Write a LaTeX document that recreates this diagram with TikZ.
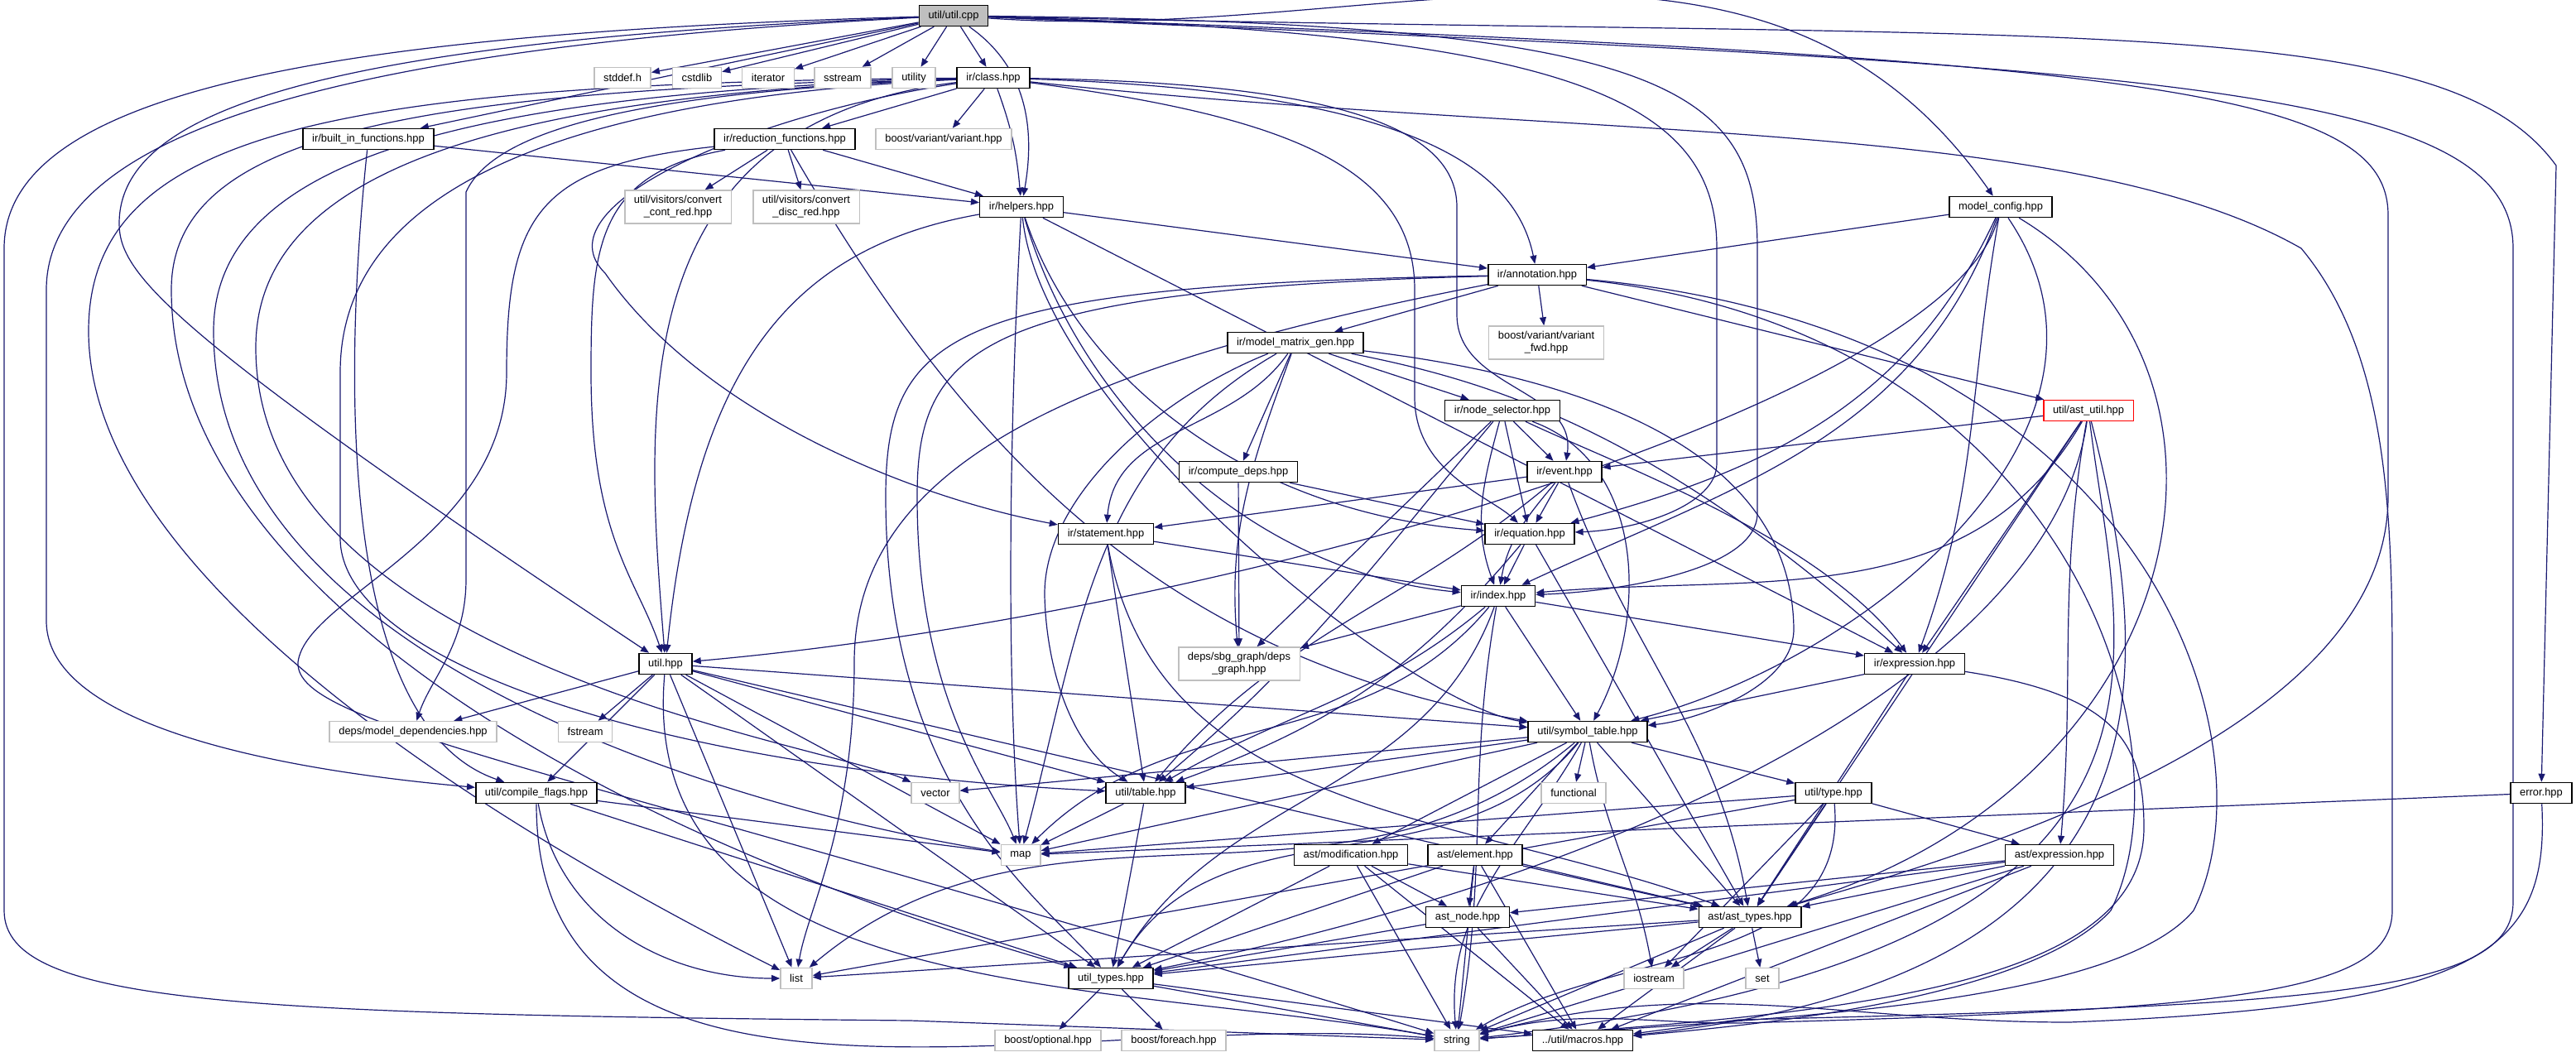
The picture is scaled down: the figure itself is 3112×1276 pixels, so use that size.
\documentclass[tikz,border=0pt]{standalone}
\usepackage{fontspec}
\setmainfont{Liberation Sans}
\usetikzlibrary{arrows.meta,backgrounds}

\definecolor{edgeblue}{RGB}{25,25,112}
\definecolor{boxgray}{RGB}{191,191,191}

\begin{document}
\begin{tikzpicture}[x=0.5pt,y=-0.5pt,>={Triangle[length=5pt,width=4pt]},
    filebox/.style={draw=black, fill=white, line width=0.75pt, rectangle, minimum height=12.5pt,
        inner xsep=5.6pt, inner ysep=0.5pt, align=center, font=\fontsize{6.45}{7.5}\selectfont},
    sysbox/.style={filebox, draw=boxgray},
    rootbox/.style={filebox, fill=boxgray},
    redbox/.style={filebox, draw=red},
    twoline/.style={minimum height=20pt},
    dep/.style={->, draw=edgeblue, line width=0.6pt}]
            \useasboundingbox (0,0) rectangle (3112,1276);

            % files, row by row
            \node[rootbox] (cpp) at (1152,19) {util/util.cpp};
            \node[sysbox] (stddef) at (752,94) {stddef.h};
            \node[sysbox] (cstdlib) at (842,94) {cstdlib};
            \node[sysbox] (iterator) at (928,94) {iterator};
            \node[sysbox] (sstream) at (1018,94) {sstream};
            \node[sysbox] (utility) at (1104,94) {utility};
            \node[filebox] (cls) at (1200,94) {ir/class.hpp};
            \node[filebox] (builtin) at (445,168) {ir/built\_in\_functions.hpp};
            \node[filebox] (reduc) at (948,168) {ir/reduction\_functions.hpp};
            \node[sysbox] (bvariant) at (1140,168) {boost/variant/variant.hpp};
            \node[sysbox, twoline] (cont) at (819,250) {util/visitors/convert\\\_cont\_red.hpp};
            \node[sysbox, twoline] (disc) at (974,250) {util/visitors/convert\\\_disc\_red.hpp};
            \node[filebox] (helpers) at (1234,250) {ir/helpers.hpp};
            \node[filebox] (mcfg) at (2417,250) {model\_config.hpp};
            \node[filebox] (annot) at (1857,332) {ir/annotation.hpp};
            \node[filebox] (mmgen) at (1565,414) {ir/model\_matrix\_gen.hpp};
            \node[sysbox, twoline] (fwd) at (1868,414) {boost/variant/variant\\\_fwd.hpp};
            \node[redbox] (astutil) at (2523,496) {util/ast\_util.hpp};
            \node[filebox] (nodesel) at (1815,496) {ir/node\_selector.hpp};
            \node[filebox] (cdeps) at (1496,570) {ir/compute\_deps.hpp};
            \node[filebox] (event) at (1890,570) {ir/event.hpp};
            \node[filebox] (stmt) at (1336,645) {ir/statement.hpp};
            \node[filebox] (eqn) at (1848,645) {ir/equation.hpp};
            \node[filebox] (index) at (1810,720) {ir/index.hpp};
            \node[sysbox, twoline] (depsg) at (1497,802) {deps/sbg\_graph/deps\\\_graph.hpp};
            \node[filebox] (irexpr) at (2313,802) {ir/expression.hpp};
            \node[filebox] (utilh) at (804,802) {util.hpp};
            \node[sysbox] (mdeps) at (499,884) {deps/model\_dependencies.hpp};
            \node[sysbox] (fstream) at (707,884) {fstream};
            \node[filebox] (symtab) at (1918,884) {util/symbol\_table.hpp};
            \node[filebox] (cflags) at (648,958) {util/compile\_flags.hpp};
            \node[sysbox] (vector) at (1130,958) {vector};
            \node[filebox] (table) at (1384,958) {util/table.hpp};
            \node[sysbox] (functional) at (1901,958) {functional};
            \node[filebox] (type) at (2215,958) {util/type.hpp};
            \node[filebox] (error) at (3070,958) {error.hpp};
            \node[sysbox] (map) at (1233,1033) {map};
            \node[filebox] (modif) at (1632,1033) {ast/modification.hpp};
            \node[filebox] (element) at (1782,1033) {ast/element.hpp};
            \node[filebox] (astexpr) at (2488,1033) {ast/expression.hpp};
            \node[filebox] (astnode) at (1773,1108) {ast\_node.hpp};
            \node[filebox] (asttypes) at (2114,1108) {ast/ast\_types.hpp};
            \node[sysbox] (list) at (962,1182) {list};
            \node[filebox] (utypes) at (1342,1182) {util\_types.hpp};
            \node[sysbox] (iostream) at (1998,1182) {iostream};
            \node[sysbox] (set) at (2129,1182) {set};
            \node[sysbox] (bopt) at (1266,1257) {boost/optional.hpp};
            \node[sysbox] (bfor) at (1418,1257) {boost/foreach.hpp};
            \node[sysbox] (str) at (1760,1257) {string};
            \node[filebox] (macros) at (1912,1257) {../util/macros.hpp};

            \begin{scope}[on background layer]
            % util/util.cpp
            \draw[dep] (cpp) -- (stddef);
            \draw[dep] (cpp) -- (cstdlib);
            \draw[dep] (cpp) -- (iterator);
            \draw[dep] (cpp) -- (sstream);
            \draw[dep] (cpp) -- (utility);
            \draw[dep] (cpp) -- (cls);
            \draw[dep] (cpp) -- (builtin);
            \draw[dep] (cpp) to[out=-35,in=80] (helpers);
            \draw[dep] (cpp) to[out=-4,in=125] (mcfg);
            \draw[dep] (cpp) .. controls (2500,50) and (2950,10) .. (3088,200) -- (error);
            \draw[dep] (cpp) .. controls (2600,80) and (3036,100) .. (3036,300) -- (3036,1090) .. controls (3036,1200) and (2800,1215) .. (2100,1232) -- (macros);
            \draw[dep] (cpp) .. controls (400,40) and (5,110) .. (5,300) -- (5,1100) .. controls (5,1215) and (300,1225) .. (1100,1233) -- (str);
            \draw[dep] (cpp) .. controls (450,55) and (56,150) .. (56,350) -- (56,750) .. controls (56,900) and (450,940) .. (cflags);
            \draw[dep] (cpp) .. controls (400,50) and (144,130) .. (144,270) .. controls (144,330) and (200,400) .. (utilh);
            \draw[dep] (cpp) .. controls (1900,40) and (2074,120) .. (2074,300) -- (2074,560) .. controls (2074,610) and (1980,640) .. (eqn);
            \draw[dep] (cpp) .. controls (2000,28) and (2123,100) .. (2123,300) -- (2123,620) .. controls (2123,690) and (1950,715) .. (index);
            \draw[dep] (cpp) .. controls (2600,70) and (2885,110) .. (2885,260) -- (2885,600) .. controls (2885,850) and (2500,1000) .. (asttypes);

            % ir/class.hpp
            \draw[dep] (cls) -- (reduc);
            \draw[dep] (cls) -- (bvariant);
            \draw[dep] (cls) to[out=-70,in=95] (helpers);
            \draw[dep] (cls) .. controls (1700,110) and (1830,200) .. (annot);
            \draw[dep] (cls) .. controls (1600,100) and (1760,150) .. (1760,250) -- (1760,380) .. controls (1760,470) and (1905,470) .. (event);
            \draw[dep] (cls) .. controls (1550,140) and (1709,200) .. (1709,350) -- (1709,480) .. controls (1709,570) and (1800,600) .. (eqn);
            \draw[dep] (cls) .. controls (1900,170) and (2500,140) .. (2780,300) .. controls (2880,420) and (2890,600) .. (2890,800) -- (2890,1100) .. controls (2890,1200) and (2700,1220) .. (2100,1236) to[out=180,in=15] (str);
            \draw[dep] (cls) .. controls (900,140) and (650,250) .. (731,330) .. controls (850,500) and (1100,600) .. (stmt);
            \draw[dep] (cls) .. controls (750,150) and (780,500) .. (utilh);
            \draw[dep] (cls) .. controls (800,110) and (600,150) .. (563,232) -- (563,700) .. controls (563,780) and (520,820) .. (mdeps);
            \draw[dep] (cls) .. controls (400,100) and (107,160) .. (107,400) .. controls (107,700) and (600,1000) .. (list);
            \draw[dep] (cls) .. controls (500,108) and (207,160) .. (207,350) .. controls (207,700) and (700,1000) .. (utypes);
            \draw[dep] (cls) .. controls (600,112) and (258,180) .. (258,400) .. controls (258,800) and (900,980) .. (map);
            \draw[dep] (cls) .. controls (650,114) and (309,190) .. (309,420) .. controls (309,800) and (1000,900) .. (vector);
            \draw[dep] (cls) .. controls (700,118) and (411,220) .. (411,450) -- (411,650) .. controls (411,800) and (800,930) .. (table);

            % ir/built_in_functions.hpp, ir/reduction_functions.hpp
            \draw[dep] (builtin) -- (helpers);
            \draw[dep] (builtin) .. controls (410,500) and (420,880) .. (cflags);
            \draw[dep] (reduc) -- (cont);
            \draw[dep] (reduc) -- (disc);
            \draw[dep] (reduc) -- (helpers);
            \draw[dep] (reduc) .. controls (720,210) and (714,300) .. (714,450) .. controls (714,650) and (770,700) .. (utilh);
            \draw[dep] (reduc) .. controls (650,200) and (612,260) .. (612,450) .. controls (612,650) and (370,720) .. (360,800) .. controls (355,880) and (700,930) .. (str);
            \draw[dep] (reduc) to[out=-60,in=170] (symtab);

            % ir/helpers.hpp
            \draw[dep] (helpers) -- (annot);
            \draw[dep] (helpers) .. controls (950,300) and (840,450) .. (utilh);
            \draw[dep] (helpers) .. controls (1300,450) and (1500,620) .. (eqn);
            \draw[dep] (helpers) .. controls (1300,480) and (1500,690) .. (index);
            \draw[dep] (helpers) -- (irexpr);
            \draw[dep] (helpers) .. controls (1220,500) and (1215,800) .. (map);
            \draw[dep] (helpers) .. controls (1260,500) and (1700,850) .. (symtab);

            % model_config.hpp
            \draw[dep] (mcfg) -- (annot);
            \draw[dep] (mcfg) to[out=-115,in=15] (eqn);
            \draw[dep] (mcfg) to[out=-110,in=25] (index);
            \draw[dep] (mcfg) .. controls (2360,480) and (1500,740) .. (utilh);
            \draw[dep] (mcfg) to[out=-100,in=70] (irexpr);
            \draw[dep] (mcfg) .. controls (2600,520) and (2250,800) .. (symtab);
            \draw[dep] (mcfg) .. controls (2750,450) and (2650,950) .. (asttypes);

            % ir/annotation.hpp
            \draw[dep] (annot) -- (mmgen);
            \draw[dep] (annot) -- (fwd);
            \draw[dep] (annot) -- (astutil);
            \draw[dep] (annot) .. controls (1300,440) and (1032,560) .. (1032,800) .. controls (1032,1000) and (975,1100) .. (list);
            \draw[dep] (annot) .. controls (1150,345) and (1070,400) .. (1070,600) .. controls (1070,950) and (1250,1080) .. (utypes);
            \draw[dep] (annot) .. controls (1180,350) and (1108,420) .. (1108,600) .. controls (1108,850) and (1200,950) .. (map);
            \draw[dep] (annot) .. controls (2600,400) and (2750,900) .. (2650,1100) .. controls (2550,1220) and (2100,1232) .. (str);
            \draw[dep] (annot) .. controls (2500,400) and (2650,900) .. (2550,1100) .. controls (2450,1210) and (2100,1240) .. (macros);

            % ir/model_matrix_gen.hpp
            \draw[dep] (mmgen) -- (nodesel);
            \draw[dep] (mmgen) -- (cdeps);
            \draw[dep] (mmgen) to[out=-125,in=85] (stmt);
            \draw[dep] (mmgen) to[out=-110,in=95] (depsg);
            \draw[dep] (mmgen) .. controls (1400,480) and (1260,600) .. (1262,720) .. controls (1264,800) and (1290,900) .. (table);
            \draw[dep] (mmgen) .. controls (1800,460) and (2000,520) .. (irexpr);
            \draw[dep] (mmgen) .. controls (1950,460) and (2165,560) .. (2167,760) .. controls (2167,830) and (2050,870) .. (symtab);
            \draw[dep] (mmgen) to[out=-150,in=75] (map);

            % ir/node_selector.hpp, ir/compute_deps.hpp
            \draw[dep] (nodesel) -- (event);
            \draw[dep] (nodesel) -- (eqn);
            \draw[dep] (nodesel) to[out=-105,in=110] (index);
            \draw[dep] (nodesel) -- (depsg);
            \draw[dep] (nodesel) .. controls (1950,560) and (2200,650) .. (irexpr);
            \draw[dep] (nodesel) .. controls (1990,560) and (1990,750) .. (symtab);
            \draw[dep] (nodesel) to[out=-130,in=40] (table);
            \draw[dep] (cdeps) -- (depsg);
            \draw[dep] (cdeps) -- (eqn);

            % util/ast_util.hpp
            \draw[dep] (astutil) -- (event);
            \draw[dep] (astutil) to[out=-120,in=5] (index);
            \draw[dep] (astutil) -- (irexpr);
            \draw[dep] (astutil) to[out=-100,in=85] (astexpr);
            \draw[dep] (astutil) -- (asttypes);
            \draw[dep] (astutil) .. controls (2480,800) and (2000,1050) .. (utypes);
            \draw[dep] (astutil) .. controls (2560,800) and (2700,1150) .. (str);
            \draw[dep] (astutil) .. controls (2600,800) and (2650,1180) .. (macros);

            % ir/event.hpp, ir/statement.hpp, ir/equation.hpp
            \draw[dep] (event) -- (stmt);
            \draw[dep] (event) -- (eqn);
            \draw[dep] (event) to[out=-130,in=80] (index);
            \draw[dep] (event) to[out=-140,in=50] (table);
            \draw[dep] (event) to[out=-70,in=100] (asttypes);
            \draw[dep] (stmt) -- (index);
            \draw[dep] (stmt) -- (table);
            \draw[dep] (stmt) to[out=-80,in=160] (asttypes);
            \draw[dep] (eqn) -- (index);
            \draw[dep] (eqn) -- (asttypes);
            \draw[dep] (eqn) to[out=-130,in=20] (table);

            % ir/index.hpp, ir/expression.hpp
            \draw[dep] (index) -- (depsg);
            \draw[dep] (index) -- (irexpr);
            \draw[dep] (index) -- (symtab);
            \draw[dep] (index) to[out=-140,in=30] (table);
            \draw[dep] (index) to[out=-130,in=45] (map);
            \draw[dep] (index) to[out=-100,in=80] (str);
            \draw[dep] (index) to[out=-110,in=60] (utypes);
            \draw[dep] (irexpr) -- (symtab);
            \draw[dep] (irexpr) -- (asttypes);
            \draw[dep] (irexpr) .. controls (2560,840) and (2590,900) .. (2590,1000) .. controls (2590,1200) and (2200,1225) .. (str);

            % util.hpp
            \draw[dep] (utilh) -- (mdeps);
            \draw[dep] (utilh) -- (fstream);
            \draw[dep] (utilh) -- (cflags);
            \draw[dep] (utilh) -- (symtab);
            \draw[dep] (utilh) -- (table);
            \draw[dep] (utilh) -- (map);
            \draw[dep] (utilh) -- (list);
            \draw[dep] (utilh) -- (utypes);
            \draw[dep] (utilh) -- (asttypes);
            \draw[dep] (utilh) to[out=-95,in=170] (str);

            % util/symbol_table.hpp
            \draw[dep] (symtab) -- (vector);
            \draw[dep] (symtab) -- (table);
            \draw[dep] (symtab) -- (functional);
            \draw[dep] (symtab) -- (type);
            \draw[dep] (symtab) -- (map);
            \draw[dep] (symtab) -- (modif);
            \draw[dep] (symtab) -- (element);
            \draw[dep] (symtab) -- (asttypes);
            \draw[dep] (symtab) to[out=-80,in=100] (iostream);
            \draw[dep] (symtab) to[out=-140,in=40] (list);
            \draw[dep] (symtab) to[out=-120,in=95] (str);
            \draw[dep] (symtab) to[out=-130,in=60] (utypes);

            % util/compile_flags.hpp, util/table.hpp, util/type.hpp, error.hpp
            \draw[dep] (cflags) -- (map);
            \draw[dep] (cflags) to[out=-80,in=180] (list);
            \draw[dep] (cflags) -- (utypes);
            \draw[dep] (cflags) to[out=-90,in=175] (str);
            \draw[dep] (table) -- (map);
            \draw[dep] (table) -- (utypes);
            \draw[dep] (type) -- (map);
            \draw[dep] (type) -- (astexpr);
            \draw[dep] (type) -- (asttypes);
            \draw[dep] (type) -- (iostream);
            \draw[dep] (type) -- (list);
            \draw[dep] (type) to[out=-85,in=30] (str);
            \draw[dep] (error) -- (map);
            \draw[dep] (error) .. controls (3080,1150) and (3000,1215) .. (2500,1235) to[out=180,in=15] (str);

            % ast headers
            \draw[dep] (modif) -- (astnode);
            \draw[dep] (modif) -- (asttypes);
            \draw[dep] (modif) -- (utypes);
            \draw[dep] (modif) -- (str);
            \draw[dep] (modif) -- (macros);
            \draw[dep] (element) -- (astnode);
            \draw[dep] (element) -- (asttypes);
            \draw[dep] (element) -- (utypes);
            \draw[dep] (element) -- (str);
            \draw[dep] (element) -- (macros);
            \draw[dep] (astexpr) -- (astnode);
            \draw[dep] (astexpr) -- (asttypes);
            \draw[dep] (astexpr) -- (utypes);
            \draw[dep] (astexpr) -- (str);
            \draw[dep] (astexpr) -- (macros);
            \draw[dep] (astnode) -- (utypes);
            \draw[dep] (astnode) -- (macros);
            \draw[dep] (asttypes) -- (list);
            \draw[dep] (asttypes) -- (iostream);
            \draw[dep] (asttypes) -- (set);
            \draw[dep] (asttypes) -- (str);
            \draw[dep] (asttypes) -- (macros);
            \draw[dep] (asttypes) -- (utypes);

            % util_types.hpp
            \draw[dep] (utypes) -- (bopt);
            \draw[dep] (utypes) -- (bfor);
            \draw[dep] (utypes) -- (str);
            \draw[dep] (utypes) -- (macros);
            \end{scope}
        \end{tikzpicture}
\end{document}
